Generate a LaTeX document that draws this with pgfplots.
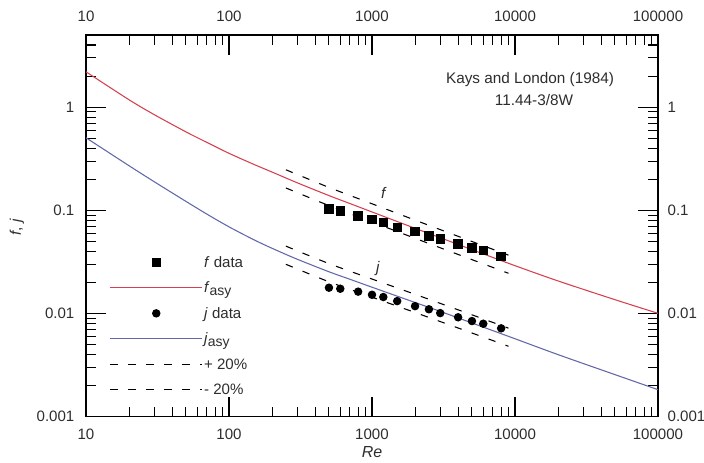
\documentclass[border=0pt]{standalone}
\usepackage{fontspec}
\setmainfont{Liberation Sans}
\usepackage{pgfplots}
\pgfplotsset{compat=1.18}

\definecolor{fred}{RGB}{214,64,78}
\definecolor{jblue}{RGB}{96,104,168}
\definecolor{txt}{RGB}{45,45,45}

% Kays and London (1984), surface 11.44-3/8W
\pgfplotstableread{
Re    f
500   0.103
600   0.0985
800   0.088
1000  0.0811
1200  0.0765
1500  0.0684
2000  0.0626
2500  0.0564
3000  0.0527
4000  0.0471
5000  0.0431
6000  0.0406
8000  0.0358
}\fdata
\pgfplotstableread{
Re    j
500   0.0178
600   0.0174
800   0.0163
1000  0.0152
1200  0.01445
1500  0.0132
2000  0.0118
2500  0.0110
3000  0.0101
4000  0.0092
5000  0.00846
6000  0.00797
8000  0.00719
}\jdata
% asymptotic correlations
\pgfplotstableread{
Re      f        j
10      2.20     0.505
20      1.179    0.2706
30      0.846    0.1894
50      0.576    0.1221
70      0.4555   0.0920
100     0.357    0.0692
150     0.278    0.0517
200     0.235    0.0429
300     0.185    0.0336
500     0.139    0.0254
700     0.1165   0.0215
1000    0.0965   0.0180
2000    0.067    0.0128
3000    0.0543   0.0105
5000    0.0416   0.0081
10000   0.0291   0.0057
20000   0.0207   0.0040
50000   0.01363  0.00256
100000  0.01005  0.00183
}\asy
% +/- 20 % bands
\pgfplotstableread{
Re     fp      fm      jp       jm
250    0.2472  0.1648  0.0450   0.0300
500    0.1668  0.1112  0.03048  0.02032
1000   0.1158  0.0772  0.0216   0.0144
2000   0.0804  0.0536  0.01536  0.01024
5000   0.0499  0.0333  0.00972  0.00648
9000   0.0368  0.02456 0.00722  0.00482
}\band

% common settings of both frames
\pgfplotsset{
  scale only axis, width=429pt, height=286.3pt,
  xmin=10, xmax=100000, ymin=0.001, ymax=5,
  axis line style={line width=1pt},
  tick style={black, line width=0.8pt},
  major tick length=15pt, minor tick length=7.5pt,
  tick align=inside, tick pos=both,
  xtick={10,100,1000,10000,100000},
  xticklabels={10,100,1000,10000,100000},
  minor xtick={20,30,40,50,60,70,80,90,200,300,400,500,600,700,800,900,
    2000,3000,4000,5000,6000,7000,8000,9000,20000,30000,40000,50000,60000,70000,80000,90000},
  ytick={0.001,0.01,0.1,1},
  yticklabels={0.001,0.01,0.1,1},
  minor ytick={0.002,0.003,0.004,0.005,0.006,0.007,0.008,0.009,
    0.02,0.03,0.04,0.05,0.06,0.07,0.08,0.09,0.2,0.3,0.4,0.5,0.6,0.7,0.8,0.9,2,3,4,5},
  tick label style={font=\fontsize{11.3}{13}\selectfont, text=txt},
}

\begin{document}
\begin{tikzpicture}
% second frame carrying the top and right tick labels
\begin{loglogaxis}[
  xticklabel pos=upper, yticklabel pos=right,
  xticklabel style={yshift=6.4pt},
  yticklabel style={xshift=3.7pt}]
\addplot[draw=none, forget plot] coordinates {(100,0.01)};
\end{loglogaxis}

\begin{loglogaxis}[name=ax,
  xticklabel style={yshift=-5.7pt},
  yticklabel style={xshift=-5.2pt},
  xlabel={\textit{Re}},
  xlabel style={at={(axis description cs:0.5,-0.0917)}, anchor=center,
    font=\fontsize{12}{14}\selectfont, text=txt},
  ylabel={\textit{f}, \textit{j}},
  ylabel style={at={(axis description cs:-0.121,0.497)}, anchor=center,
    font=\fontsize{11.5}{14}\selectfont, text=txt},
  legend style={at={(rel axis cs:0.041,0.427)}, anchor=north west,
    draw=none, fill=none, inner sep=0pt, row sep=6.5pt,
    font=\fontsize{11.3}{13}\selectfont, text=txt,
    nodes={inner sep=1pt}},
  legend cell align=left,
  legend image code/.code={%
    \draw[mark repeat=2,mark phase=2,#1]
      plot coordinates {(0pt,0pt) (34.5pt,0pt) (69pt,0pt)};},
  every axis plot/.append style={line width=0.8pt},
]
\addplot[only marks, mark=square*, mark size=3.1pt, black] table[x=Re,y=f]{\fdata};
\addlegendentry{\strut\textit{f} data}
\addplot[draw=fred, smooth] table[x=Re,y=f]{\asy};
\addlegendentry{\strut\textit{f}\raisebox{-0.3ex}{\fontsize{10.5}{12}\selectfont asy}}
\addplot[only marks, mark=*, mark size=2.75pt, black] table[x=Re,y=j]{\jdata};
\addlegendentry{\strut\textit{j} data}
\addplot[draw=jblue, smooth] table[x=Re,y=j]{\asy};
\addlegendentry{\strut\textit{j}\raisebox{-0.3ex}{\fontsize{10.5}{12}\selectfont asy}}
\addplot[black, dash pattern=on 5.5pt off 8pt, smooth] table[x=Re,y=fp]{\band};
\addlegendentry{\strut+ 20\%}
\addplot[black, dash pattern=on 5.5pt off 8pt, smooth] table[x=Re,y=fm]{\band};
\addlegendentry{\strut- 20\%}
\addplot[black, dash pattern=on 5.5pt off 8pt, smooth, forget plot] table[x=Re,y=jp]{\band};
\addplot[black, dash pattern=on 5.5pt off 8pt, smooth, forget plot] table[x=Re,y=jm]{\band};

\node[font=\fontsize{11.5}{13}\selectfont, text=txt] at (axis cs:12740,1.87) {Kays and London (1984)};
\node[font=\fontsize{11.5}{13}\selectfont, text=txt] at (axis cs:13580,1.17) {11.44-3/8W};
\node[font=\fontsize{11.5}{13}\selectfont\itshape, text=txt] at (axis cs:1200,0.146) {f};
\node[font=\fontsize{11.5}{13}\selectfont\itshape, text=txt] at (axis cs:1100,0.0274) {j};
\end{loglogaxis}

\pgfresetboundingbox
\path[use as bounding box] ([xshift=-64.5pt,yshift=-34.5pt]ax.south west)
  rectangle ([xshift=34.5pt,yshift=26.25pt]ax.north east);
\end{tikzpicture}
\end{document}
